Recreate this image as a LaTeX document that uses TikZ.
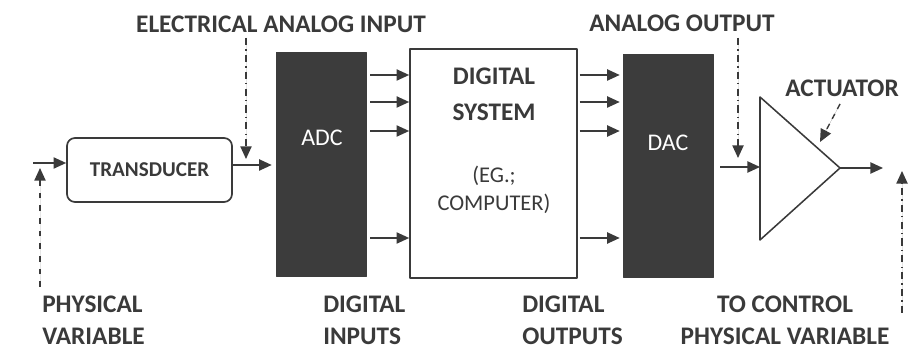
\documentclass[tikz,border=0pt]{standalone}
\usepackage{fontspec}
\setmainfont{Carlito}
\usetikzlibrary{arrows.meta}
\definecolor{inkgray}{HTML}{3A3A3A}
\definecolor{boxgray}{HTML}{3C3C3C}
\begin{document}
\begin{tikzpicture}[>={Triangle[length=9pt,width=8pt]},line join=round,font=\fontsize{18}{22.7}\selectfont\bfseries,
	lbl/.style={text=inkgray,inner sep=0pt},
	conv/.style={fill=boxgray,draw=boxgray,minimum width=2.25cm,inner sep=0pt},
	sig/.style={->,draw=inkgray,fill=inkgray,line width=1.1pt},
	pointer/.style={->,draw=inkgray,fill=inkgray,line width=1pt,dash pattern=on 5pt off 3pt on 1pt off 3pt}]
	\useasboundingbox (0,0) rectangle (23.1,8.725);
	\node[draw=inkgray,line width=1.2pt,rounded corners=0.2cm,minimum width=4.125cm,minimum height=1.6cm,text=inkgray,font=\fontsize{15}{18}\selectfont\bfseries] (trans) at (3.7375,4.475) {TRANSDUCER};
	\node[conv,minimum height=5.6cm] (adc) at (8.025,4.625) {};
	\node[conv,minimum height=5.575cm] (dac) at (16.7,4.5875) {};
	\node[draw=inkgray,line width=1.2pt,minimum width=4.175cm,minimum height=5.725cm] (sys) at (12.3375,4.6375) {};
	\node[text=white,font=\fontsize{17}{20}\selectfont] (adctxt) at (8.05,5.275) {ADC};
	\node[text=white,font=\fontsize{17}{20}\selectfont] (dactxt) at (16.7,5.15) {DAC};
	\node[lbl,align=center,font=\fontsize{18}{25.5}\selectfont\bfseries] (systitle) at (12.35,6.375) {DIGITAL\\SYSTEM};
	\node[lbl,align=center,font=\fontsize{16}{19.9}\selectfont] (syseg) at (12.35,3.975) {(EG.;\\COMPUTER)};
	\foreach \y in {6.85,6.175,5.45,2.775}{
		\draw[sig,shorten <=0.1cm] (adc.east|-0,\y) -- (sys.west|-0,\y);
		\draw[sig,shorten <=0.05cm,shorten >=0.075cm] (sys.east|-0,\y) -- (dac.west|-0,\y);
	}
	\coordinate (pin) at (0.825,4.65);
	\draw[sig] (pin) -- (trans.west|-pin);
	\draw[sig,shorten >=0.1cm] (trans.east|-0,4.6) -- (adc.west|-0,4.6);
	\coordinate (acttop) at (19,6.3);
	\coordinate (actbot) at (19,2.725);
	\coordinate (acttip) at (21,4.525);
	\coordinate (actout) at (22.075,4.525);
	\draw[draw=inkgray,line width=1.1pt] (acttop) -- (acttip) -- (actbot) -- cycle;
	\draw[sig,shorten <=0.175cm] (dac.east|-0,4.55) -- (acttop|-0,4.55);
	\draw[sig] (acttip) -- (actout);
	\node[lbl] (eai) at (7.025,8.125) {ELECTRICAL ANALOG INPUT};
	\node[lbl] (aout) at (17.05,8.15) {ANALOG OUTPUT};
	\node[lbl] (actlbl) at (21.05,6.525) {ACTUATOR};
	\node[lbl,anchor=west,align=left] (physvar) at (1.05,0.725) {PHYSICAL\\VARIABLE};
	\node[lbl,anchor=west,align=left] (dins) at (8.075,0.725) {DIGITAL\\INPUTS};
	\node[lbl,anchor=west,align=left] (douts) at (13.05,0.725) {DIGITAL\\OUTPUTS};
	\node[lbl,align=center] (ctrl) at (19.625,0.725) {TO CONTROL\\PHYSICAL VARIABLE};
	\coordinate (eaitop) at (6.15,7.775);
	\coordinate (eaiend) at (6.15,4.75);
	\coordinate (aouttop) at (18.45,7.775);
	\coordinate (aoutend) at (18.45,4.775);
	\coordinate (actfrom) at (21.0,6.125);
	\coordinate (actto) at (20.5,5.175);
	\coordinate (pvbot) at (1.0,1.55);
	\coordinate (pvtop) at (1.0,4.525);
	\coordinate (ctrlbot) at (22.55,0.9);
	\coordinate (ctrltop) at (22.55,4.45);
	\draw[pointer] (eaitop) -- (eaiend);
	\draw[pointer] (aouttop) -- (aoutend);
	\draw[pointer,dash pattern=on 4pt off 4pt] (actfrom) -- (actto);
	\draw[pointer,dash pattern=on 4pt off 5pt] (pvbot) -- (pvtop);
	\draw[pointer] (ctrlbot) -- (ctrltop);
\end{tikzpicture}
\end{document}
